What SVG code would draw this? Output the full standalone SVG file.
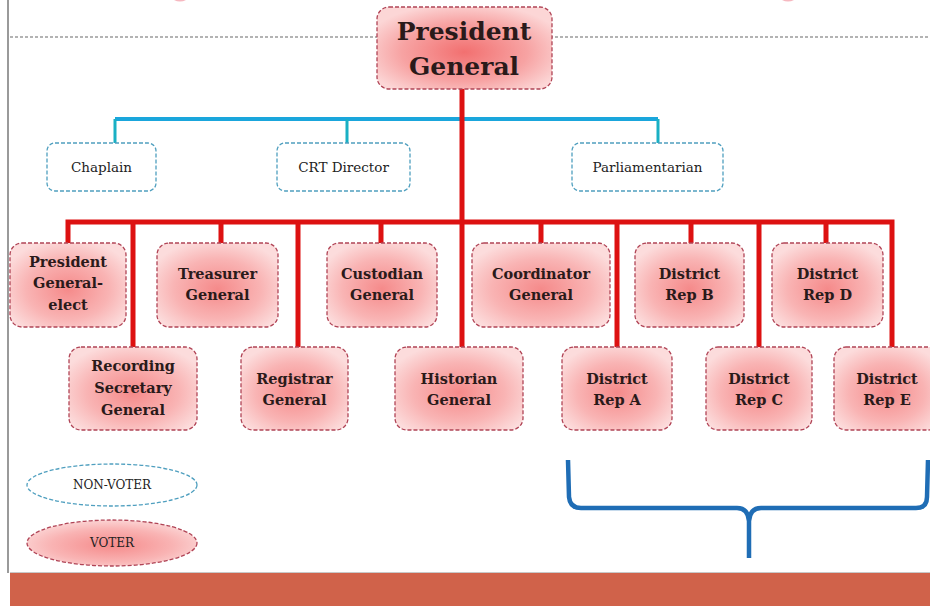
<svg xmlns="http://www.w3.org/2000/svg" width="930" height="606" viewBox="0 0 930 606">
<defs>
<radialGradient id="pink" cx="50%" cy="55%" r="60%">
<stop offset="0" stop-color="#f58a8a"/>
<stop offset="0.6" stop-color="#f9b4b4"/>
<stop offset="1" stop-color="#fcdcdc"/>
</radialGradient>
<radialGradient id="pinkTop" cx="50%" cy="55%" r="60%">
<stop offset="0" stop-color="#f27070"/>
<stop offset="0.6" stop-color="#f7a3a3"/>
<stop offset="1" stop-color="#fcd6d6"/>
</radialGradient>
<style>
.voter{fill:url(#pink);stroke:#b04456;stroke-width:1.3;stroke-dasharray:4 2}
.nonvoter{fill:#ffffff;stroke:#4f9fbf;stroke-width:1.3;stroke-dasharray:4 2}
.t{font-family:"DejaVu Serif","Liberation Serif",serif;font-weight:bold;font-size:14.5px;fill:#2a1a1a;text-anchor:middle}
.s{font-family:"DejaVu Serif","Liberation Serif",serif;font-size:13.5px;fill:#222;text-anchor:middle}
.l{font-family:"DejaVu Serif","Liberation Serif",serif;font-size:12px;fill:#222;text-anchor:middle}
.red{stroke:#dd1111;stroke-width:5;fill:none}
.blue{stroke:#1aa6dc;stroke-width:4;fill:none}
.teal{stroke:#19b0c4;stroke-width:3;fill:none}
</style>
</defs>
<rect x="0" y="0" width="930" height="606" fill="#ffffff"/>
<g id="frame">
<line x1="8" y1="0" x2="8" y2="573" stroke="#9a9a9a" stroke-width="2"/>
<line x1="10" y1="37" x2="930" y2="37" stroke="#9a9a9a" stroke-width="1.3" stroke-dasharray="3 2"/>
<path d="M174,0 Q180,3 186,0 Z" fill="#f6b8c0"/>
<path d="M782,0 Q788,3 794,0 Z" fill="#f6b8c0"/>
<rect x="10" y="573" width="920" height="33" fill="#d0624a"/>
<line x1="10" y1="572.5" x2="930" y2="572.5" stroke="#c8c8c8" stroke-width="1"/>
</g>
<g id="connectors">
<path class="blue" d="M115,119 H658"/>
<path class="teal" d="M115,119 V143 M347,119 V143 M658,119 V143"/>
<path class="red" d="M462,89 V347"/>
<path class="red" d="M68,243 V222 H892 V347"/>
<path class="red" d="M221,222 V243 M381,222 V243 M541,222 V243 M691,222 V243 M826,222 V243"/>
<path class="red" d="M133,222 V347 M298,222 V347 M617,222 V347 M759,222 V347"/>
<path d="M568,460 L569,497 Q570,508 581,508 L737,508 Q748,508 749,521 L749,558 M749,521 Q750,508 761,508 L916,508 Q927,508 927,497 L928,460" fill="none" stroke="#1f6db5" stroke-width="4.5" stroke-linejoin="round"/>
</g>
<g id="president-general">
<rect x="377" y="7" width="175" height="82" rx="12" fill="url(#pinkTop)" stroke="#b04456" stroke-width="1.3" stroke-dasharray="4 2"/>
<text class="t" style="font-size:25px"><tspan x="464" y="40">President</tspan><tspan x="464" y="75">General</tspan></text>
</g>
<g id="chaplain">
<rect class="nonvoter" x="47" y="143" width="109" height="48" rx="8"/>
<text class="s" x="101.5" y="172">Chaplain</text>
</g>
<g id="crt-director">
<rect class="nonvoter" x="277" y="143" width="133" height="48" rx="8"/>
<text class="s" x="343.5" y="172">CRT Director</text>
</g>
<g id="parliamentarian">
<rect class="nonvoter" x="572" y="143" width="151" height="48" rx="8"/>
<text class="s" x="647.5" y="172">Parliamentarian</text>
</g>
<g id="president-general-elect">
<rect class="voter" x="10" y="243" width="116" height="84" rx="12"/>
<text class="t"><tspan x="68" y="267">President</tspan><tspan x="68" y="288">General-</tspan><tspan x="68" y="310">elect</tspan></text>
</g>
<g id="treasurer-general">
<rect class="voter" x="157" y="243" width="121" height="84" rx="12"/>
<text class="t"><tspan x="217.5" y="279">Treasurer</tspan><tspan x="217.5" y="300">General</tspan></text>
</g>
<g id="custodian-general">
<rect class="voter" x="327" y="243" width="110" height="84" rx="12"/>
<text class="t"><tspan x="382" y="279">Custodian</tspan><tspan x="382" y="300">General</tspan></text>
</g>
<g id="coordinator-general">
<rect class="voter" x="472" y="243" width="138" height="84" rx="12"/>
<text class="t"><tspan x="541" y="279">Coordinator</tspan><tspan x="541" y="300">General</tspan></text>
</g>
<g id="district-rep-b">
<rect class="voter" x="635" y="243" width="109" height="84" rx="12"/>
<text class="t"><tspan x="689.5" y="279">District</tspan><tspan x="689.5" y="300">Rep B</tspan></text>
</g>
<g id="district-rep-d">
<rect class="voter" x="772" y="243" width="111" height="84" rx="12"/>
<text class="t"><tspan x="827.5" y="279">District</tspan><tspan x="827.5" y="300">Rep D</tspan></text>
</g>
<g id="recording-secretary-general">
<rect class="voter" x="69" y="347" width="128" height="83" rx="12"/>
<text class="t"><tspan x="133" y="371">Recording</tspan><tspan x="133" y="393">Secretary</tspan><tspan x="133" y="415">General</tspan></text>
</g>
<g id="registrar-general">
<rect class="voter" x="241" y="347" width="107" height="83" rx="12"/>
<text class="t"><tspan x="294.5" y="384">Registrar</tspan><tspan x="294.5" y="405">General</tspan></text>
</g>
<g id="historian-general">
<rect class="voter" x="395" y="347" width="128" height="83" rx="12"/>
<text class="t"><tspan x="459" y="384">Historian</tspan><tspan x="459" y="405">General</tspan></text>
</g>
<g id="district-rep-a">
<rect class="voter" x="562" y="347" width="110" height="83" rx="12"/>
<text class="t"><tspan x="617" y="384">District</tspan><tspan x="617" y="405">Rep A</tspan></text>
</g>
<g id="district-rep-c">
<rect class="voter" x="706" y="347" width="106" height="83" rx="12"/>
<text class="t"><tspan x="759" y="384">District</tspan><tspan x="759" y="405">Rep C</tspan></text>
</g>
<g id="district-rep-e">
<rect class="voter" x="834" y="347" width="106" height="83" rx="12"/>
<text class="t"><tspan x="887" y="384">District</tspan><tspan x="887" y="405">Rep E</tspan></text>
</g>
<g id="legend-non-voter">
<ellipse class="nonvoter" cx="112" cy="485" rx="85" ry="21"/>
<text class="l" x="112" y="489">NON-VOTER</text>
</g>
<g id="legend-voter">
<ellipse class="voter" cx="112" cy="543" rx="85" ry="23"/>
<text class="l" x="112" y="547">VOTER</text>
</g>
</svg>
